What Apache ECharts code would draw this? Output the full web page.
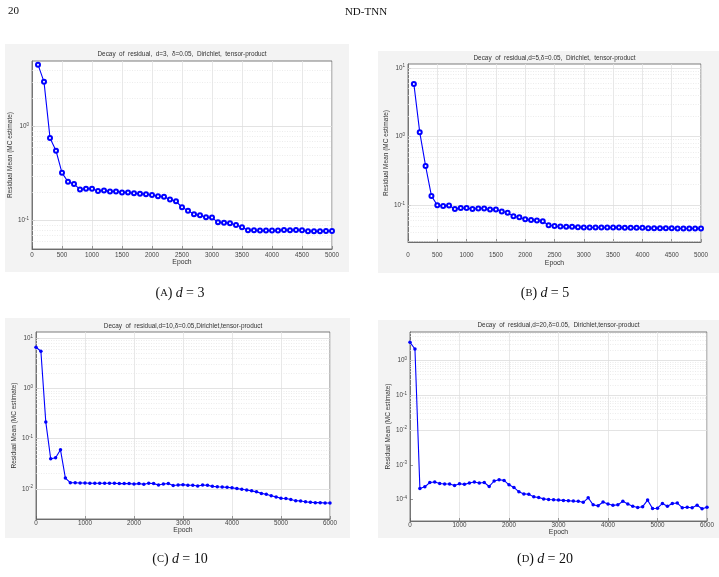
<!DOCTYPE html>
<html>
<head>
<meta charset="utf-8">
<script src="https://cdn.jsdelivr.net/npm/echarts@6/dist/echarts.min.js"></script>
<style>
  html, body { margin: 0; padding: 0; background: #fff; }
  #chart { width: 719px; height: 577px; }
</style>
</head>
<body>
<div id="chart"></div>
<script>
// epochs
const epochsAB = [100, 200, 300, 400, 500, 600, 700, 800, 900, 1000,
  1100, 1200, 1300, 1400, 1500, 1600, 1700, 1800, 1900, 2000,
  2100, 2200, 2300, 2400, 2500, 2600, 2700, 2800, 2900, 3000,
  3100, 3200, 3300, 3400, 3500, 3600, 3700, 3800, 3900, 4000,
  4100, 4200, 4300, 4400, 4500, 4600, 4700, 4800, 4900, 5000]
const epochsCD = [0, 100, 200, 300, 400, 500, 600, 700, 800, 900, 1000,
  1100, 1200, 1300, 1400, 1500, 1600, 1700, 1800, 1900, 2000,
  2100, 2200, 2300, 2400, 2500, 2600, 2700, 2800, 2900, 3000,
  3100, 3200, 3300, 3400, 3500, 3600, 3700, 3800, 3900, 4000,
  4100, 4200, 4300, 4400, 4500, 4600, 4700, 4800, 4900, 5000,
  5100, 5200, 5300, 5400, 5500, 5600, 5700, 5800, 5900, 6000]

// residual mean (MC estimate)
const residA = [4.57, 3.0, 0.76, 0.555, 0.323, 0.26, 0.245, 0.215, 0.219, 0.219,
  0.207, 0.21, 0.205, 0.205, 0.2, 0.2, 0.196, 0.194, 0.191, 0.188,
  0.182, 0.18, 0.168, 0.161, 0.139, 0.128, 0.117, 0.114, 0.109, 0.108,
  0.096, 0.095, 0.094, 0.09, 0.085, 0.079, 0.079, 0.0785, 0.0785, 0.0785,
  0.0785, 0.0798, 0.079, 0.0798, 0.079, 0.0772, 0.0772, 0.0772, 0.0778, 0.0778]
const residB = [5.85, 1.16, 0.374, 0.137, 0.1, 0.098, 0.099, 0.0885, 0.091, 0.091,
  0.0885, 0.09, 0.09, 0.0866, 0.0866, 0.081, 0.078, 0.069, 0.067, 0.0625,
  0.0612, 0.06, 0.0586, 0.0512, 0.05, 0.0493, 0.0485, 0.0485, 0.048, 0.0474,
  0.0474, 0.0474, 0.0474, 0.0474, 0.0474, 0.0474, 0.0469, 0.0469, 0.0469, 0.0469,
  0.0464, 0.0464, 0.0464, 0.0464, 0.0464, 0.0459, 0.0459, 0.0459, 0.0459, 0.0459]
const residC = [6.65, 5.53, 0.214, 0.0398, 0.0417, 0.060, 0.0164, 0.01325, 0.01325, 0.0131, 0.0131,
  0.0129, 0.0129, 0.0129, 0.0129, 0.0129, 0.0129, 0.0127, 0.0127, 0.0127, 0.0125,
  0.0127, 0.0123, 0.0129, 0.0127, 0.0119, 0.0125, 0.0127, 0.0116, 0.0119, 0.0121,
  0.0118, 0.0118, 0.0114, 0.0119, 0.0118, 0.0112, 0.0110, 0.0109, 0.0107, 0.0105,
  0.0101, 0.0098, 0.0095, 0.0091, 0.0087, 0.0081, 0.0078, 0.0073, 0.0069, 0.0065,
  0.0064, 0.0061, 0.0058, 0.0057, 0.0055, 0.0054, 0.0053, 0.0053, 0.0052, 0.0052]
const residD = [3.38, 2.17, 2.08e-4, 2.32e-4, 3.09e-4, 3.2e-4, 2.9e-4, 2.8e-4, 2.8e-4, 2.54e-4, 2.85e-4,
  2.73e-4, 2.98e-4, 3.18e-4, 2.98e-4, 3.09e-4, 2.37e-4, 3.41e-4, 3.69e-4, 3.55e-4, 2.65e-4,
  2.23e-4, 1.66e-4, 1.45e-4, 1.42e-4, 1.19e-4, 1.14e-4, 1.04e-4, 1.0e-4, 9.8e-5, 9.6e-5,
  9.4e-5, 9.2e-5, 9.0e-5, 8.9e-5, 8.3e-5, 1.12e-4, 7.0e-5, 6.6e-5, 8.5e-5, 7.4e-5,
  6.8e-5, 7.0e-5, 8.9e-5, 7.4e-5, 6.4e-5, 5.9e-5, 6.2e-5, 9.6e-5, 5.5e-5, 5.6e-5,
  7.7e-5, 6.4e-5, 7.7e-5, 7.9e-5, 5.8e-5, 6.0e-5, 5.8e-5, 6.8e-5, 5.4e-5, 6.0e-5]

// major log ticks per panel
const yTicksA = [0.1, 1]
const yTicksB = [0.1, 1, 10]
const yTicksC = [0.01, 0.1, 1, 10]
const yTicksD = [1e-4, 1e-3, 1e-2, 0.1, 1]

const titles = [
  'Decay  of  residual,  d=3,  δ=0.05,  Dirichlet,  tensor-product',
  'Decay  of  residual,d=5,δ=0.05,  Dirichlet,  tensor-product',
  'Decay  of  residual,d=10,δ=0.05,Dirichlet,tensor-product',
  'Decay  of  residual,d=20,δ=0.05,  Dirichlet,tensor-product'
]
const captionLetters = ['A', 'B', 'C', 'D']
const captionDims = ['3', '5', '10', '20']

const SANS = 'Liberation Sans, Arial, sans-serif'
const SERIF = 'Liberation Serif, DejaVu Serif, serif'
const BLUE = '#0000ff'
const AXIS = '#5a5a5a'
const LABEL = '#454545'

const panels = [
  { x: epochsAB, y: residA, ticks: yTicksA, xMax: 5000, xStep: 500, yMin: 0.05, yMax: 5,
    grid: { left: 32, top: 61, width: 300, height: 188 }, bg: [5, 44, 344, 228],
    open: true, labelMargin: 3, nameGapX: 10, nameGapY: 15, titleTop: 51, cap: [180, 293] },
  { x: epochsAB, y: residB, ticks: yTicksB, xMax: 5000, xStep: 500, yMin: 0.0292, yMax: 11.4,
    grid: { left: 408, top: 64, width: 293, height: 178 }, bg: [378, 51, 341, 222],
    open: true, labelMargin: 10, nameGapX: 18, nameGapY: 15, titleTop: 55, cap: [545, 293] },
  { x: epochsCD, y: residC, ticks: yTicksC, xMax: 6000, xStep: 1000, yMin: 0.0025, yMax: 13.4,
    grid: { left: 36, top: 332, width: 294, height: 187 }, bg: [5, 318, 345, 220],
    open: false, labelMargin: 1, nameGapX: 8, nameGapY: 16, titleTop: 323, cap: [180, 559] },
  { x: epochsCD, y: residD, ticks: yTicksD, xMax: 6000, xStep: 1000, yMin: 2.4e-5, yMax: 6.7,
    grid: { left: 410, top: 332, width: 297, height: 189 }, bg: [378, 320, 341, 218],
    open: false, labelMargin: 1, nameGapX: 8, nameGapY: 16, titleTop: 322, cap: [545, 559] }
]

// minor log grid lines at 2..9 x 10^k inside the range
function minorLines(min, max) {
  const out = []
  for (let k = Math.floor(Math.log10(min)); k <= Math.ceil(Math.log10(max)); k++) {
    for (let m = 2; m <= 9; m++) {
      const v = m * Math.pow(10, k)
      if (v > min && v < max) out.push(v)
    }
  }
  return out
}

const chart = echarts.init(document.getElementById('chart'))

const option = {
  animation: false,
  title: panels.map((p, i) => ({
    text: titles[i],
    left: p.grid.left + p.grid.width / 2,
    top: p.titleTop,
    textAlign: 'center',
    padding: 0,
    textStyle: { fontFamily: SANS, fontSize: 6.4, fontWeight: 'normal', color: '#333' }
  })),
  grid: panels.map(p => ({ ...p.grid, show: true, backgroundColor: '#fff', borderColor: AXIS, borderWidth: 0.8 })),
  xAxis: panels.map((p, i) => ({
    type: 'value',
    gridIndex: i,
    min: 0,
    max: p.xMax,
    interval: p.xStep,
    name: 'Epoch',
    nameLocation: 'middle',
    nameGap: p.nameGapX,
    nameTextStyle: { fontFamily: SANS, fontSize: 6.8, color: '#333' },
    axisLine: { show: true, lineStyle: { color: AXIS, width: 0.8 } },
    axisTick: { show: true, inside: true, length: 3, lineStyle: { color: AXIS, width: 0.6 } },
    axisLabel: { fontFamily: SANS, fontSize: 6.3, color: LABEL, margin: p.labelMargin, formatter: v => String(v) },
    splitLine: { show: true, lineStyle: { color: '#e2e2e2', width: 0.8 } }
  })),
  yAxis: panels.map((p, i) => ({
    type: 'log',
    logBase: 10,
    gridIndex: i,
    min: p.yMin,
    max: p.yMax,
    name: 'Residual Mean (MC estimate)',
    nameLocation: 'middle',
    nameGap: p.nameGapY,
    nameTextStyle: { fontFamily: SANS, fontSize: 6.5, color: '#333' },
    axisLine: { show: true, lineStyle: { color: AXIS, width: 0.8 } },
    axisTick: { show: true, inside: true, length: 3, customValues: p.ticks, lineStyle: { color: AXIS, width: 0.6 } },
    axisLabel: {
      customValues: p.ticks,
      margin: 3,
      formatter: v => '{b|10}{e|' + Math.round(Math.log10(v)) + '}',
      rich: {
        b: { fontFamily: SANS, fontSize: 6.3, color: LABEL },
        e: { fontFamily: SANS, fontSize: 4.5, color: LABEL, verticalAlign: 'top', padding: [0, 0, 4, 0] }
      }
    },
    splitLine: { show: false }
  })),
  series: panels.map((p, i) => ({
    type: 'line',
    xAxisIndex: i,
    yAxisIndex: i,
    z: 3,
    data: p.x.map((e, j) => [e, p.y[j]]),
    symbol: p.open ? 'emptyCircle' : 'circle',
    symbolSize: p.open ? 4 : 3.5,
    itemStyle: { color: BLUE, borderColor: BLUE, borderWidth: p.open ? 0.9 : 0 },
    lineStyle: { color: BLUE, width: 1.1 },
    markLine: {
      z: 1,
      silent: true,
      symbol: 'none',
      animation: false,
      label: { show: false },
      data: [
        ...p.ticks.map(v => ({ yAxis: v, lineStyle: { color: '#dcdcdc', width: 0.8, type: 'solid' } })),
        ...minorLines(p.yMin, p.yMax).map(v => ({ yAxis: v, lineStyle: { color: '#e4e4e4', width: 0.7, type: [1, 1.5] } }))
      ]
    }
  })),
  graphic: [
    ...panels.map(p => ({
      type: 'rect', z: -10, silent: true,
      shape: { x: p.bg[0], y: p.bg[1], width: p.bg[2], height: p.bg[3] },
      style: { fill: '#f3f3f3' }
    })),
    { type: 'text', left: 8, top: 6, z: 100,
      style: { text: '20', fontFamily: SERIF, fontSize: 11, fill: '#111' } },
    { type: 'text', x: 366, y: 12, z: 100,
      style: { text: 'ND-TNN', fontFamily: SERIF, fontSize: 11, fill: '#111', align: 'center', verticalAlign: 'middle' } },
    ...panels.map((p, i) => ({
      type: 'text', x: p.cap[0], y: p.cap[1], z: 100,
      style: {
        text: '{p|(}{s|' + captionLetters[i] + '}{p|)} {i|d} {p|= ' + captionDims[i] + '}',
        align: 'center', verticalAlign: 'middle', fill: '#111',
        rich: {
          p: { fontFamily: SERIF, fontSize: 14, fill: '#111' },
          s: { fontFamily: SERIF, fontSize: 10.5, fill: '#111', verticalAlign: 'bottom', padding: [0, 0, 1, 0] },
          i: { fontFamily: SERIF, fontSize: 14, fontStyle: 'italic', fill: '#111' }
        }
      }
    }))
  ]
}

chart.setOption(option)
</script>
</body>
</html>
